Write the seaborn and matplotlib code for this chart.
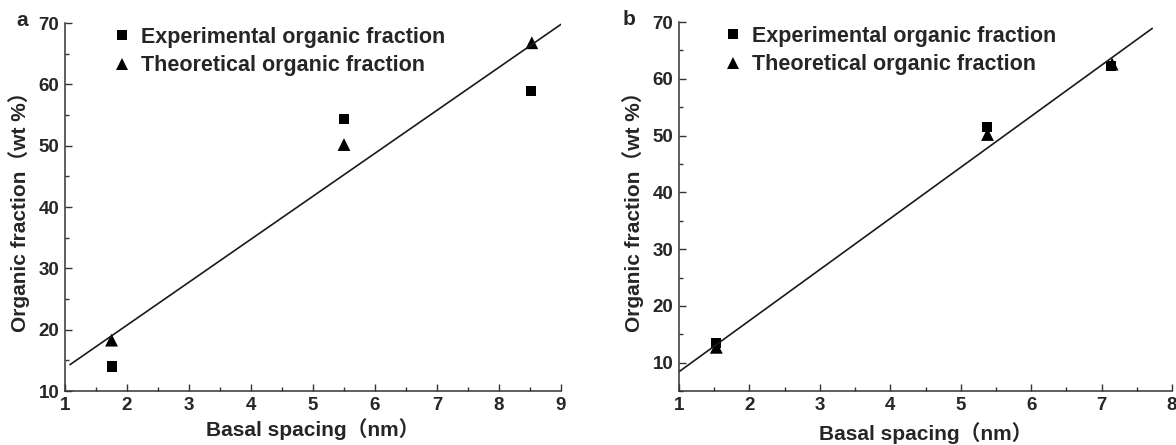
import numpy as np
import pandas as pd
import matplotlib
matplotlib.use("Agg")
import matplotlib.pyplot as plt
from matplotlib.ticker import MultipleLocator
import seaborn as sns

# ---------------- data ----------------
series_names = ["Experimental organic fraction", "Theoretical organic fraction"]

a_x_exp = [1.75, 5.50, 8.52]
a_y_exp = [14.0, 54.3, 59.0]
a_x_theo = [1.75, 5.50, 8.53]
a_y_theo = [18.3, 50.2, 66.8]
a_fit_x = [1.08, 9.0]
a_fit_y = [14.3, 69.8]

b_x_exp = [1.53, 5.38, 7.14]
b_y_exp = [13.5, 51.6, 62.2]
b_x_theo = [1.53, 5.38, 7.15]
b_y_theo = [12.7, 50.2, 62.6]
b_fit_x = [1.0, 7.72]
b_fit_y = [8.4, 68.9]

xlabel = "Basal spacing\uff08nm\uff09"
ylabel = "Organic fraction\uff08wt %\uff09"

sns.set_theme(style="ticks")
plt.rcParams["font.family"] = ["Liberation Sans", "Noto Sans CJK SC"]
plt.rcParams["font.weight"] = "bold"
plt.rcParams["axes.labelweight"] = "bold"

fig = plt.figure(figsize=(11.76, 4.45), dpi=100)
axA = fig.add_axes([0.0553, 0.1213, 0.4217, 0.8267])
axB = fig.add_axes([0.5774, 0.1213, 0.4192, 0.8290])


def make_df(xe, ye, xt, yt):
    return pd.DataFrame({
        "x": list(xe) + list(xt),
        "y": list(ye) + list(yt),
        "series": [series_names[0]] * len(xe) + [series_names[1]] * len(xt),
    })


def draw(ax, df, fx, fy, xlim, ylim, label, label_x, leg_x, xlabel_pad):
    sns.lineplot(x=fx, y=fy, ax=ax, color="#1a1a1a", linewidth=1.2, legend=False)
    sns.scatterplot(data=df, x="x", y="y", style="series", hue="series", size="series",
                    markers={series_names[0]: "s", series_names[1]: "^"},
                    palette={series_names[0]: "black", series_names[1]: "black"},
                    sizes={series_names[0]: 52, series_names[1]: 85},
                    linewidth=0, ax=ax, legend=True)
    ax.set_xlim(*xlim)
    ax.set_ylim(*ylim)
    ax.xaxis.set_major_locator(MultipleLocator(1))
    ax.xaxis.set_minor_locator(MultipleLocator(0.5))
    ax.yaxis.set_major_locator(MultipleLocator(10))
    ax.yaxis.set_minor_locator(MultipleLocator(5))
    ax.tick_params(which="both", direction="in", width=1, color="#333333",
                   labelsize=13.5, pad=4)
    ax.tick_params(which="major", length=5)
    ax.tick_params(which="minor", length=3)
    for lab in ax.get_xticklabels() + ax.get_yticklabels():
        lab.set_fontweight("bold")
    for side in ["top", "right"]:
        ax.spines[side].set_visible(False)
    for side in ["left", "bottom"]:
        ax.spines[side].set_linewidth(1.1)
        ax.spines[side].set_color("#333333")
    ax.set_xlabel(xlabel, fontsize=15, fontweight="bold", labelpad=xlabel_pad)
    ax.set_ylabel(ylabel, fontsize=15, fontweight="bold", labelpad=6)
    leg = ax.legend(loc="upper left", bbox_to_anchor=(leg_x, 1.014), frameon=False,
                    fontsize=15.5, handletextpad=0.3, labelspacing=0.35,
                    borderaxespad=0, handlelength=1.2)
    for t in leg.get_texts():
        t.set_fontweight("bold")
    ax.text(label_x, 1.006, label, transform=ax.transAxes, fontsize=15,
            fontweight="bold", ha="center", va="center")


draw(axA, make_df(a_x_exp, a_y_exp, a_x_theo, a_y_theo), a_fit_x, a_fit_y,
     (1, 9), (10, 70), "a", -0.087, 0.071, 3)
draw(axB, make_df(b_x_exp, b_y_exp, b_x_theo, b_y_theo), b_fit_x, b_fit_y,
     (1, 8), (5, 70), "b", -0.101, 0.065, 6)

fig.savefig("out.png", dpi=100)
